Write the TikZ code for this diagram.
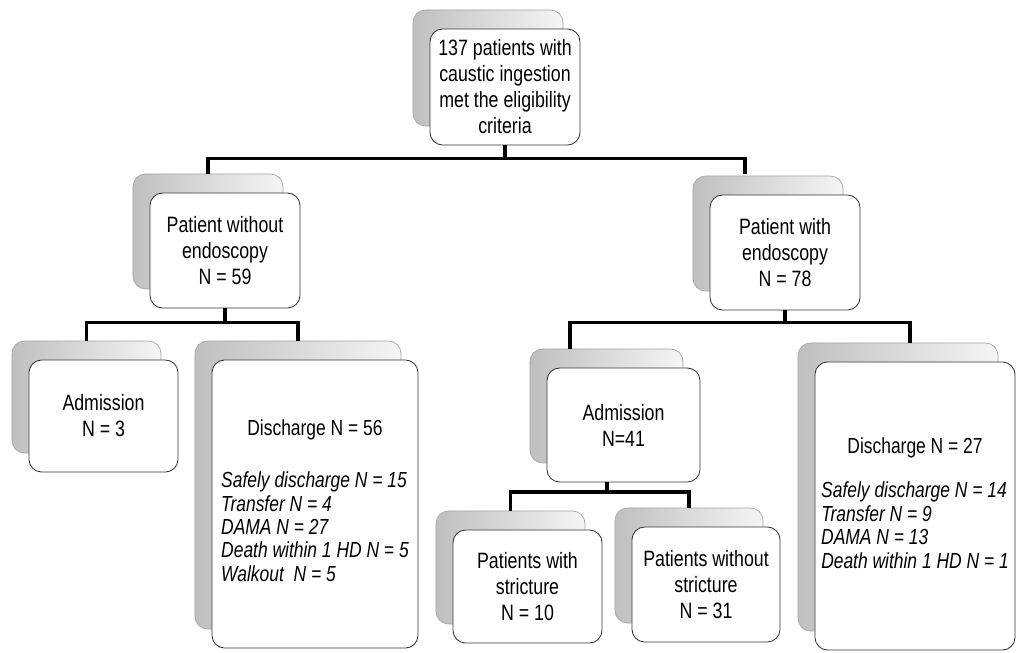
\documentclass[tikz,border=0pt]{standalone}
\usepackage{fontspec}
\setmainfont{Liberation Sans}[FakeStretch=0.8]
\tikzset{
  back/.style={draw=gray!70, line width=0.5pt, rounded corners=9pt,
    left color=gray!50, right color=gray!8, inner sep=0pt},
  front/.style={draw=black!80, line width=0.6pt, rounded corners=9pt,
    fill=white, align=center, inner sep=0pt},
  boxsize/.style 2 args={minimum width=#1, minimum height=#2},
  listbox/.style={font=\fontsize{15.5}{16.7}\selectfont},
  link/.style={line width=2.5pt},
}
\begin{document}
\begin{tikzpicture}[x=0.025cm, y=-0.025cm, font=\fontsize{15.8}{18.5}\selectfont]
  \useasboundingbox (0,0) rectangle (1017,652);

  % all patients
  \node[back, boxsize={3.75cm}{2.9cm}] (topb) at (488,68) {};
  \node[front, boxsize={3.75cm}{2.9cm}] (top) at (505,87)
    {137 patients with\\caustic ingestion\\met the eligibility\\criteria};

  % endoscopy or not
  \node[back, boxsize={3.75cm}{2.875cm}] (woEb) at (208,231.5) {};
  \node[front, boxsize={3.75cm}{2.875cm}] (woE) at (225,250.5)
    {Patient without\\endoscopy\\N = 59};
  \node[back, boxsize={3.75cm}{2.875cm}] (wEb) at (768,233.5) {};
  \node[front, boxsize={3.75cm}{2.875cm}] (wE) at (785,252.5)
    {Patient with\\endoscopy\\N = 78};

  % without endoscopy
  \node[back, boxsize={3.725cm}{2.8cm}] (adm3b) at (86.5,397) {};
  \node[front, boxsize={3.725cm}{2.8cm}] (adm3) at (103.5,416)
    {Admission\\N = 3};
  \node[back, boxsize={5.15cm}{7.2cm}] (dis56b) at (298,485) {};
  \node[front, listbox, boxsize={5.15cm}{7.2cm}] (dis56) at (315,504)
    {\begin{tabular}{@{}l@{}}
      \multicolumn{1}{@{}c@{}}{Discharge N = 56}\\[20pt]
      \textit{Safely discharge N = 15}\\
      \textit{Transfer N = 4}\\
      \textit{DAMA N = 27}\\
      \textit{Death within 1 HD N = 5}\\
      \textit{Walkout\ \ N = 5}
    \end{tabular}};

  % with endoscopy
  \node[back, boxsize={3.825cm}{2.85cm}] (adm41b) at (606.5,406) {};
  \node[front, boxsize={3.825cm}{2.85cm}] (adm41) at (623.5,425)
    {Admission\\N=41};
  \node[back, boxsize={5cm}{7.2cm}] (dis27b) at (898,487) {};
  \node[front, listbox, boxsize={5cm}{7.2cm}] (dis27) at (915,506)
    {\begin{tabular}{@{}l@{}}
      \multicolumn{1}{@{}c@{}}{Discharge N = 27}\\[15pt]
      \textit{Safely discharge N = 14}\\
      \textit{Transfer N = 9}\\
      \textit{DAMA N = 13}\\
      \textit{Death within 1 HD N = 1}
    \end{tabular}};

  % stricture
  \node[back, boxsize={3.725cm}{2.825cm}] (strb) at (510.5,567.5) {};
  \node[front, boxsize={3.725cm}{2.825cm}] (str) at (527.5,586.5)
    {Patients with\\stricture\\N = 10};
  \node[back, boxsize={3.7cm}{2.875cm}] (nostrb) at (689,565.5) {};
  \node[front, boxsize={3.7cm}{2.875cm}] (nostr) at (706,584.5)
    {Patients without\\stricture\\N = 31};

  % connectors
  \coordinate (wEtap) at (745,174);
  \draw[link] (top.south) -- ++(0,13) coordinate (t1);
  \draw[link] (woEb.north) |- (t1) -| (wEtap);

  \draw[link] (woE.south) -- ++(0,14) coordinate (l2);
  \draw[link] (adm3b.north) |- (l2) -| (dis56b.north);

  \coordinate (a41tap) at (570,349);
  \coordinate (d27tap) at (910,343);
  \draw[link] (wE.south) -- ++(0,12) coordinate (r2);
  \draw[link] (a41tap) |- (r2) -| (d27tap);

  \coordinate (a41out) at (607,482);
  \draw[link] (a41out) -- ++(0,10) coordinate (l3);
  \draw[link] (strb.north) |- (l3) -| (nostrb.north);
\end{tikzpicture}
\end{document}
